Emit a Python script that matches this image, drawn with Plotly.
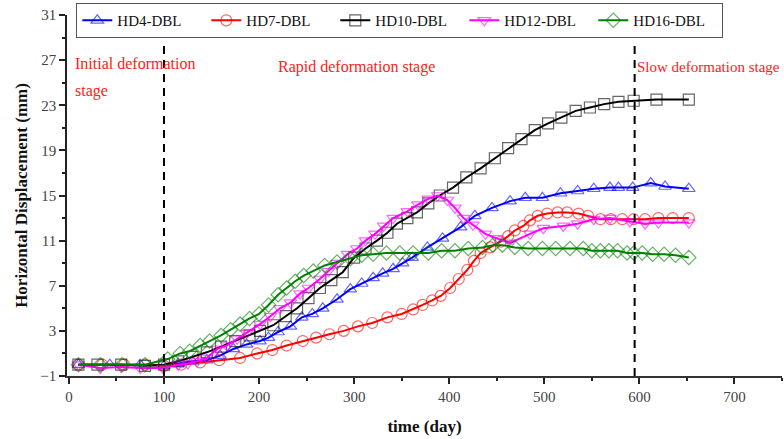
import plotly.graph_objects as go

# ---- data ----
hd4_x = [10, 43, 75, 100, 115, 130, 145, 159, 173, 187, 201, 210, 220, 233, 245, 256, 267, 282, 296, 308, 320, 330, 341, 351, 361, 377, 393, 412, 427, 445, 464, 480, 498, 517, 535, 552, 569, 578, 593, 612, 627, 652]
hd4_y = [0, 0, 0, -0.1, 0.1, 0.3, 0.4, 0.8, 1.4, 1.8, 2.1, 2.4, 2.9, 3.4, 4.2, 4.5, 5.0, 5.8, 6.7, 7.2, 7.7, 8.1, 8.5, 9.0, 9.5, 10.4, 11.2, 12.2, 13.2, 13.9, 14.5, 14.8, 14.8, 15.2, 15.4, 15.6, 15.7, 15.7, 15.7, 16.1, 15.8, 15.6]

hd7_x = [10, 35, 58, 80, 100, 118, 138, 158, 180, 198, 214, 229, 246, 260, 274, 289, 304, 319, 335, 350, 362, 372, 382, 391, 401, 410, 419, 426, 433, 443, 454, 462, 469, 478, 485, 493, 503, 514, 524, 536, 546, 559, 570, 582, 594, 606, 620, 635, 652]
hd7_y = [0, 0, 0, 0, -0.1, 0, 0.2, 0.4, 0.6, 1.0, 1.3, 1.7, 2.1, 2.4, 2.7, 3.0, 3.4, 3.7, 4.2, 4.5, 4.9, 5.3, 5.7, 6.1, 6.8, 7.6, 8.4, 9.2, 9.9, 10.4, 10.9, 11.4, 11.9, 12.3, 12.8, 13.2, 13.4, 13.5, 13.5, 13.4, 13.2, 12.9, 12.9, 12.9, 12.9, 12.9, 13.0, 13.0, 13.0]

hd10_x = [10, 30, 55, 80, 100, 115, 130, 145, 160, 175, 190, 201, 215, 228, 240, 252, 264, 276, 288, 300, 312, 324, 335, 345, 356, 366, 378, 390, 404, 418, 433, 448, 462, 476, 490, 504, 518, 533, 548, 563, 578, 594, 618, 652]
hd10_y = [0, 0, 0, -0.1, 0, 0.3, 0.7, 1.1, 1.6, 2.1, 2.6, 3.0, 3.5, 4.3, 5.0, 5.9, 6.8, 7.5, 8.2, 9.5, 10.3, 11.0, 11.7, 12.5, 13.0, 13.5, 14.3, 15.0, 15.7, 16.6, 17.4, 18.3, 19.2, 20.0, 20.8, 21.4, 21.9, 22.5, 22.8, 23.1, 23.3, 23.4, 23.5, 23.5]

hd12_x = [10, 33, 55, 75, 99, 115, 125, 135, 145, 156, 166, 177, 187, 201, 212, 222, 233, 243, 252, 264, 273, 282, 293, 303, 312, 322, 331, 341, 356, 367, 378, 388, 398, 406, 415, 425, 438, 450, 464, 485, 499, 520, 535, 552, 569, 590, 606, 620, 652]
hd12_y = [0, -0.3, -0.2, -0.3, -0.3, 0, 0.1, 0.3, 0.6, 1.4, 1.7, 2.3, 2.8, 3.6, 4.3, 5.0, 5.5, 6.3, 6.8, 7.6, 8.3, 9.0, 9.8, 10.3, 11.0, 11.6, 12.3, 13.0, 13.6, 14.2, 14.7, 15.0, 14.6, 13.9, 13.0, 12.4, 11.6, 11.2, 10.8, 11.6, 12.1, 12.3, 12.5, 12.9, 13.0, 12.7, 12.5, 12.6, 12.6]

hd16_x = [10, 33, 56, 80, 104, 117, 127, 138, 148, 160, 170, 180, 190, 200, 210, 220, 229, 238, 247, 257, 269, 282, 296, 308, 320, 334, 348, 362, 378, 392, 406, 420, 435, 446, 456, 469, 483, 498, 512, 527, 541, 550, 559, 568, 577, 587, 594, 603, 614, 626, 638, 652]
hd16_y = [0, 0, 0, 0, 0.5, 1.0, 1.2, 1.7, 2.1, 2.6, 3.1, 3.6, 4.1, 4.5, 5.3, 6.2, 6.8, 7.4, 7.9, 8.3, 8.8, 9.1, 9.4, 9.7, 9.8, 9.9, 9.9, 9.9, 9.9, 10.1, 10.1, 10.3, 10.4, 10.6, 10.6, 10.4, 10.3, 10.3, 10.3, 10.3, 10.3, 10.1, 10.1, 10.1, 10.1, 9.9, 9.9, 9.9, 9.8, 9.8, 9.7, 9.5]

stage_lines = [100, 595]
y_ticks = [-1, 3, 7, 11, 15, 19, 23, 27, 31]
x_ticks = [0, 100, 200, 300, 400, 500, 600, 700]

SERIF = "Liberation Serif"

series = [
    ("HD4-DBL", hd4_x, hd4_y, "#0000FF", "triangle-up-open"),
    ("HD7-DBL", hd7_x, hd7_y, "#FF0000", "circle-open"),
    ("HD10-DBL", hd10_x, hd10_y, "#000000", "square-open"),
    ("HD12-DBL", hd12_x, hd12_y, "#FF00FF", "triangle-down-open"),
    ("HD16-DBL", hd16_x, hd16_y, "#008000", "diamond-open"),
]

fig = go.Figure()
for name, xs, ys, col, sym in series:
    fig.add_trace(go.Scatter(
        x=xs, y=ys, name=name, mode="lines+markers",
        line=dict(color=col, width=2),
        marker=dict(symbol=sym, size=11, color=col, opacity=0.6,
                    line=dict(width=1.2, color=col)),
    ))

for xv in stage_lines:
    fig.add_shape(type="line", xref="x", yref="y", x0=xv, x1=xv, y0=-1, y1=28.7,
                  line=dict(color="black", width=2, dash="8px,6px"))

red_font = dict(family=SERIF, size=16, color="#FF2020")
fig.add_annotation(x=4, y=26.7, xref="x", yref="y", text="Initial deformation",
                   showarrow=False, xanchor="left", yanchor="middle", font=red_font)
fig.add_annotation(x=4, y=24.3, xref="x", yref="y", text="stage",
                   showarrow=False, xanchor="left", yanchor="middle", font=red_font)
fig.add_annotation(x=218, y=26.4, xref="x", yref="y", text="Rapid deformation stage",
                   showarrow=False, xanchor="left", yanchor="middle", font=red_font)
fig.add_annotation(x=595.5, y=26.4, xref="x", yref="y", text="Slow deformation stage",
                   showarrow=False, xanchor="left", yanchor="middle",
                   font=dict(family=SERIF, size=15, color="#FF2020"))

fig.update_layout(
    width=784, height=439,
    margin=dict(l=67, r=2, t=15, b=63, autoexpand=False),
    plot_bgcolor="white", paper_bgcolor="white",
    font=dict(family=SERIF, size=14, color="#222"),
    showlegend=True,
    legend=dict(orientation="h", x=0.013, y=1.033, xanchor="left", yanchor="top",
                bordercolor="#555", borderwidth=1, bgcolor="white",
                font=dict(family=SERIF, size=15, color="#111"),
                itemwidth=30, entrywidth=84, entrywidthmode="pixels", tracegroupgap=0),
    xaxis=dict(range=[-2, 750], tickvals=x_ticks, ticks="outside", ticklen=6,
               tickwidth=1.5, tickcolor="#222", automargin=False,
               minor=dict(dtick=50, tick0=0, ticks="outside", ticklen=3, tickcolor="#222"),
               showline=True, linecolor="#333", linewidth=2, showgrid=False, zeroline=False,
               tickfont=dict(family=SERIF, size=15, color="#444"),
               title=dict(text="<b>time (day)</b>", font=dict(family=SERIF, size=17, color="#111"),
                          standoff=16)),
    yaxis=dict(range=[-1, 31], tickvals=y_ticks, ticks="outside", ticklen=6,
               tickwidth=1.5, tickcolor="#222", automargin=False,
               minor=dict(dtick=2, tick0=-1, ticks="outside", ticklen=3, tickcolor="#222"),
               showline=True, linecolor="#222", linewidth=1.5, showgrid=False, zeroline=False,
               tickfont=dict(family=SERIF, size=15, color="#444"),
               title=dict(text="<b>Horizontal Displacement (mm)</b>",
                          font=dict(family=SERIF, size=17, color="#111"), standoff=8)),
)

fig.write_html("out.html", config={"displayModeBar": False},
               post_script="document.body.style.margin='0';")
